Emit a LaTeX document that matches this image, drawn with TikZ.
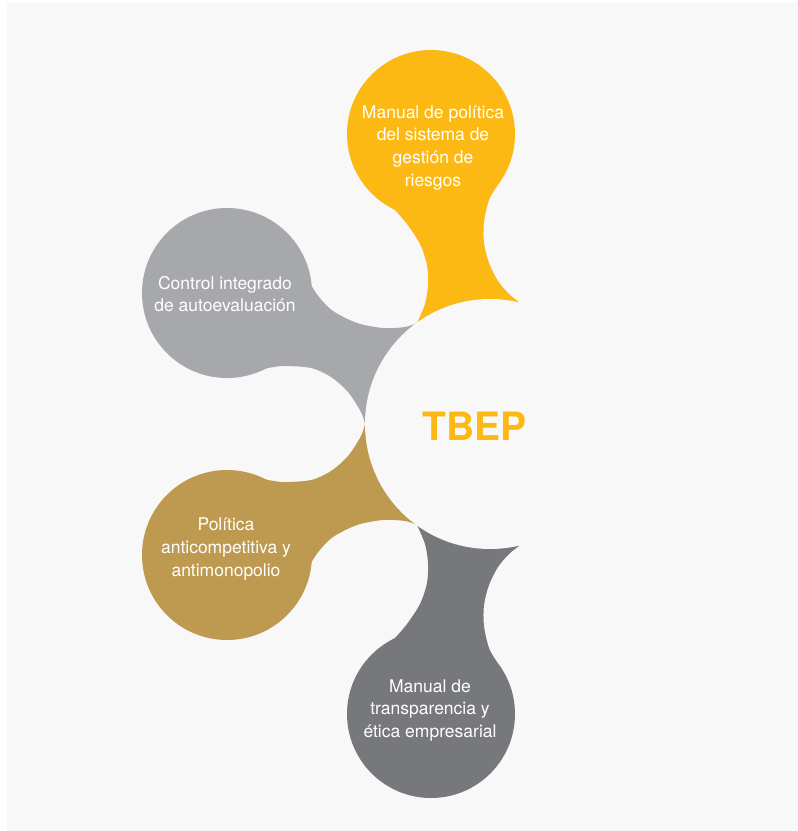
\documentclass[tikz,border=0pt]{standalone}
\usepackage{fontspec}
\setmainfont{TeX Gyre Heros}
\definecolor{bgc}{HTML}{F8F8F8}
\definecolor{yel}{HTML}{FDB913}
\definecolor{lgray}{HTML}{A7A8AB}
\definecolor{gold}{HTML}{BE9A51}
\definecolor{dgray}{HTML}{77787B}
\begin{document}
\begin{tikzpicture}[x=1pt,y=-1pt,
  petaltext/.style={text=white, align=center, font=\fontsize{17.5}{22.7}\selectfont, inner sep=0pt},
  hubtext/.style={text=yel, font=\fontsize{39}{40}\selectfont\bfseries, inner sep=0pt, anchor=base}]
\useasboundingbox (0,0) rectangle (798,831);
\fill[white] (0,0) rectangle (798,831);
\fill[bgc] (7,2) rectangle (798,831);
% yellow petal
\fill[yel] (431,134) circle[radius=84pt];
\fill[yel] (431,134) -- (395,210) -- plot[smooth] coordinates {(395,210) (407,224) (420,244) (427,265) (428,285) (425,304) (417,323)} -- (490,424) -- plot[smooth] coordinates {(519,302) (509,294) (498,281) (489,263) (484,243) (484,222) (489,200) (497,186)} -- cycle;
% light gray petal
\fill[lgray] (227,293) circle[radius=85pt];
\fill[lgray] (227,293) -- (311,285) -- plot[smooth] coordinates {(311,285) (319,297) (333,311) (357,323) (383,328) (405,327) (417,323)} -- (490,424) -- plot[smooth] coordinates {(365,424) (361,412) (348,392) (331,377) (311,368) (283,366) (263,369)} -- cycle;
% gold petal
\fill[gold] (227,555) circle[radius=85pt];
\fill[gold] (227,555) -- (263,479) -- plot[smooth] coordinates {(263,479) (283,482) (311,480) (331,471) (348,456) (361,436) (365,424)} -- (490,424) -- plot[smooth] coordinates {(417,525) (405,521) (383,520) (357,525) (333,537) (319,551) (311,563)} -- cycle;
% dark gray petal
\fill[dgray] (431,714) circle[radius=84pt];
\fill[dgray] (431,714) -- (395,638) -- plot[smooth] coordinates {(395,638) (407,624) (420,604) (427,583) (428,563) (425,544) (417,525)} -- (490,424) -- plot[smooth] coordinates {(519,546) (509,554) (498,567) (489,585) (484,605) (484,626) (489,648) (497,662)} -- cycle;
% hub
\fill[bgc] (490,424) circle[radius=125pt];
\node[hubtext] (hub) at (475,440.7) {TBEP};
\node[petaltext] (t1) at (433,147.7) {Manual de política\\del sistema de\\gestión de\\riesgos};
\node[petaltext] (t2) at (225,294) {Control integrado\\de autoevaluación};
\node[petaltext] (t3) at (226,549) {Política\\anticompetitiva y\\antimonopolio};
\node[petaltext] (t4) at (430,710.5) {Manual de\\transparencia y\\ética empresarial};
\end{tikzpicture}
\end{document}
